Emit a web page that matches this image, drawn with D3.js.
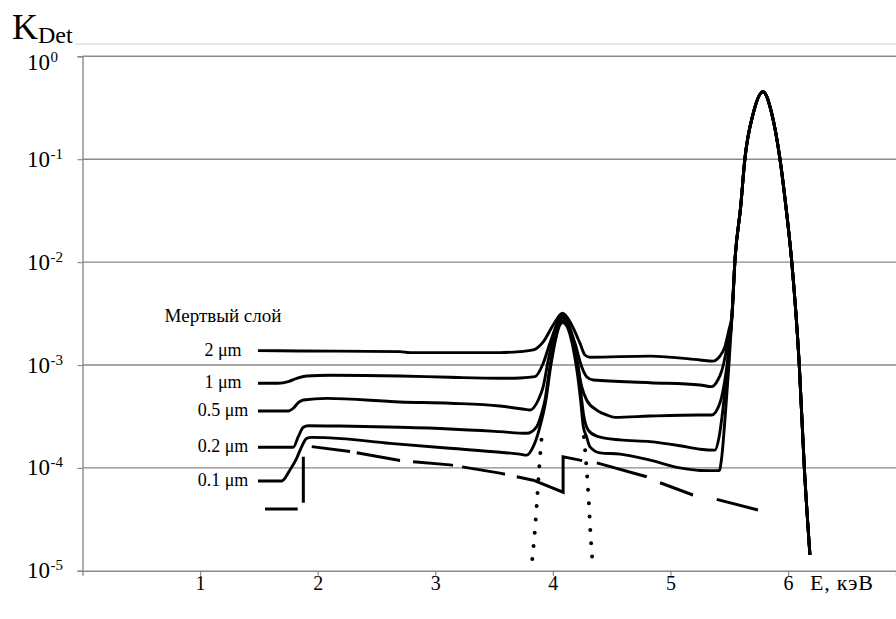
<!DOCTYPE html>
<html>
<head>
<meta charset="utf-8">
<script src="https://cdn.jsdelivr.net/npm/d3@7"></script>
<style>
  html, body { margin: 0; padding: 0; background: #fff; }
  svg { display: block; }
  svg text { font-family: "Liberation Serif", "Times New Roman", serif; }
</style>
</head>
<body>
<svg id="chart" width="896" height="619"></svg>
<script>
// Detector efficiency K_Det vs photon energy for several dead-layer thicknesses.
// Points are [E (keV), K].

const layerLabels = ["2 μm", "1 μm", "0.5 μm", "0.2 μm", "0.1 μm"];

// Shared main peak (all thicknesses coincide here)
const mainPeak = [
  [5.523, 3.0e-3], [5.548, 1.02e-2], [5.597, 3.45e-2], [5.633, 0.101],
  [5.704, 0.279], [5.787, 0.453], [5.861, 0.279], [5.931, 0.101],
  [5.982, 3.45e-2], [6.031, 1.02e-2], [6.095, 1.02e-3], [6.138, 1.02e-4],
  [6.186, 1.43e-5]
];

const layer2um = [
  [1.492, 1.38e-3], [1.849, 1.37e-3], [2.700, 1.35e-3], [2.784, 1.32e-3],
  [3.550, 1.32e-3], [3.720, 1.35e-3], [3.833, 1.40e-3], [3.918, 1.68e-3],
  [4.003, 2.45e-3], [4.083, 3.18e-3], [4.160, 2.45e-3], [4.230, 1.63e-3],
  [4.273, 1.25e-3], [4.316, 1.19e-3], [4.826, 1.22e-3], [5.251, 1.12e-3],
  [5.361, 1.09e-3], [5.420, 1.22e-3], [5.463, 1.51e-3], [5.497, 2.19e-3]
];

const layer1um = [
  [1.492, 6.64e-4], [1.662, 6.64e-4], [1.750, 6.88e-4], [1.821, 7.43e-4],
  [1.906, 7.82e-4], [2.105, 7.94e-4], [2.700, 7.82e-4], [3.125, 7.59e-4],
  [3.550, 7.43e-4], [3.720, 7.48e-4], [3.848, 7.70e-4], [3.918, 1.04e-3],
  [3.975, 1.63e-3], [4.083, 2.99e-3], [4.188, 1.63e-3], [4.245, 9.62e-4],
  [4.287, 7.70e-4], [4.344, 7.15e-4], [4.826, 6.73e-4], [5.251, 6.40e-4],
  [5.350, 6.16e-4], [5.403, 7.15e-4], [5.438, 8.93e-4], [5.468, 1.25e-3],
  [5.497, 1.96e-3]
];

const layer05um = [
  [1.492, 3.57e-4], [1.750, 3.57e-4], [1.793, 3.80e-4], [1.835, 4.30e-4],
  [1.878, 4.57e-4], [2.077, 4.74e-4], [2.700, 4.37e-4], [3.125, 4.25e-4],
  [3.550, 4.00e-4], [3.763, 3.71e-4], [3.805, 3.65e-4], [3.876, 4.57e-4],
  [3.918, 6.16e-4], [3.961, 1.12e-3], [4.083, 2.86e-3], [4.202, 1.12e-3],
  [4.245, 6.16e-4], [4.287, 4.57e-4], [4.372, 3.65e-4], [4.457, 3.27e-4],
  [4.528, 3.10e-4], [4.826, 3.19e-4], [5.251, 3.27e-4], [5.350, 3.27e-4],
  [5.420, 4.25e-4], [5.463, 7.15e-4], [5.497, 1.40e-3]
];

const layer02um = [
  [1.492, 1.59e-4], [1.793, 1.59e-4], [1.835, 2.01e-4], [1.878, 2.48e-4],
  [1.920, 2.57e-4], [2.190, 2.55e-4], [2.700, 2.48e-4], [3.125, 2.39e-4],
  [3.550, 2.25e-4], [3.777, 2.17e-4], [3.862, 2.51e-4], [3.905, 3.40e-4],
  [3.933, 4.57e-4], [3.975, 9.62e-4], [4.083, 2.70e-3], [4.216, 9.62e-4],
  [4.245, 4.57e-4], [4.259, 3.40e-4], [4.301, 2.33e-4], [4.372, 2.04e-4],
  [4.571, 1.87e-4], [4.826, 1.80e-4], [5.081, 1.64e-4], [5.251, 1.52e-4],
  [5.378, 1.49e-4], [5.414, 2.01e-4], [5.449, 3.96e-4], [5.489, 1.12e-3]
];

const layer01um = [
  [1.492, 7.46e-5], [1.694, 7.46e-5], [1.764, 9.55e-5], [1.821, 1.24e-4],
  [1.864, 1.61e-4], [1.906, 1.94e-4], [1.949, 1.98e-4], [2.105, 1.96e-4],
  [2.615, 1.73e-4], [3.125, 1.55e-4], [3.550, 1.42e-4], [3.720, 1.36e-4],
  [3.777, 1.33e-4], [3.833, 1.61e-4], [3.890, 2.51e-4], [3.941, 4.57e-4],
  [3.981, 9.62e-4], [4.083, 2.58e-3], [4.200, 9.62e-4], [4.236, 4.57e-4],
  [4.259, 2.51e-4], [4.287, 2.00e-4], [4.316, 1.60e-4], [4.401, 1.40e-4],
  [4.571, 1.36e-4], [4.826, 1.19e-4], [5.081, 1.00e-4], [5.251, 9.45e-5],
  [5.414, 9.40e-5], [5.438, 1.33e-4], [5.463, 2.92e-4], [5.497, 9.90e-4]
];

// Dashed curve with absorption edges
const edgeCurve = [
  [1.552, 3.99e-5], [1.878, 3.99e-5], [1.878, 1.65e-4], [2.275, 1.44e-4],
  [2.700, 1.18e-4], [3.125, 1.07e-4], [3.550, 8.90e-5], [3.833, 7.60e-5],
  [4.087, 5.80e-5], [4.087, 1.28e-4], [4.230, 1.19e-4], [4.372, 1.12e-4],
  [4.797, 8.20e-5], [4.911, 7.18e-5], [5.191, 5.45e-5], [5.393, 4.95e-5],
  [5.744, 3.90e-5]
];
// dash / gap lengths along the dashed curve
const edgeDashes = [32.7, 11.95, 46, 19.6, 38.6, 6.8, 44, 13.1, 40.1, 9.2,
  43.6, 12, 103.8, 14.85, 51.8, 14.6, 35.2, 24.1, 42.7, 60];

// Dotted escape peak flanks
const escapeLeft = [
  [3.825, 1.30e-5], [3.845, 2.3e-5], [3.865, 4.8e-5], [3.885, 1.05e-4], [3.905, 2.0e-4]
];
const escapeRight = [
  [4.264, 2.0e-4], [4.285, 1.05e-4], [4.305, 4.8e-5], [4.320, 2.3e-5], [4.335, 1.30e-5]
];

const xTicks = [1, 2, 3, 4, 5, 6];
const yTicks = [1e0, 1e-1, 1e-2, 1e-3, 1e-4, 1e-5];
const yExponents = ["0", "-1", "-2", "-3", "-4", "-5"];

const svg = d3.select("#chart");
const FONT = "Liberation Serif, Times New Roman, serif";

const x = d3.scaleLinear().domain([0, 6.918]).range([82.5, 896]);
const y = d3.scaleLog().domain([1e-5, 1]).range([570.8, 56.3]);

// faint plot-area border on top
svg.append("line")
  .attr("x1", 75).attr("x2", 896).attr("y1", 44).attr("y2", 44)
  .attr("stroke", "#cfcfcf").attr("stroke-width", 1);

// horizontal gridlines
svg.append("g").selectAll("line")
  .data(yTicks.slice(0, 5))
  .join("line")
  .attr("x1", x(0)).attr("x2", 896)
  .attr("y1", d => y(d)).attr("y2", d => y(d))
  .attr("stroke", "#8a8a8a").attr("stroke-width", 1.4);

// y axis
const yAxis = svg.append("g")
  .attr("transform", `translate(${x(0)},0)`)
  .call(d3.axisLeft(y).tickValues(yTicks).tickSize(5).tickFormat(""));
yAxis.select(".domain").attr("stroke", "#8a8a8a").attr("stroke-width", 1.4);
yAxis.selectAll(".tick line").attr("stroke", "#8a8a8a").attr("stroke-width", 1.2);

// x axis
const xAxis = svg.append("g")
  .attr("transform", `translate(0,${y(1e-5)})`)
  .call(d3.axisBottom(x).tickValues(xTicks).tickSize(5).tickPadding(0).tickFormat(d3.format("d")));
xAxis.attr("font-family", FONT);
xAxis.select(".domain").attr("stroke", "#8a8a8a").attr("stroke-width", 1.4);
xAxis.selectAll(".tick line").attr("stroke", "#8a8a8a").attr("stroke-width", 1.2);
xAxis.selectAll(".tick text")
  .attr("font-size", 20).attr("fill", "#000")
  .attr("dy", "0.71em");

// y tick labels: 10 with exponent (top label sits just under its gridline)
const yLab = svg.append("g").attr("font-family", FONT).attr("fill", "#000");
yTicks.forEach((t, i) => {
  const base = y(t) + (i === 0 ? 14 : 7.5);
  yLab.append("text")
    .attr("x", 50).attr("y", base)
    .attr("font-size", 23).attr("text-anchor", "end")
    .text("10");
  yLab.append("text")
    .attr("x", 50.5).attr("y", base - 8)
    .attr("font-size", 15)
    .text(yExponents[i]);
});

// axis titles
const kt = svg.append("text").attr("font-family", FONT)
  .attr("x", 12).attr("y", 39).attr("fill", "#000");
kt.append("tspan").attr("font-size", 36).text("K");
kt.append("tspan").attr("font-size", 24).attr("dy", 4).text("Det");

svg.append("text")
  .attr("font-family", FONT)
  .attr("x", 810).attr("y", y(1e-5) + 19.5)
  .attr("font-size", 22).attr("fill", "#000")
  .attr("letter-spacing", 0.8)
  .text("E, кэВ");

const line = d3.line()
  .x(d => x(d[0]))
  .y(d => y(d[1]))
  .curve(d3.curveMonotoneX);

const lineLinear = d3.line()
  .x(d => x(d[0]))
  .y(d => y(d[1]));

// dotted escape peak
[escapeLeft, escapeRight].forEach(s => {
  svg.append("path")
    .attr("d", line(s))
    .attr("fill", "none")
    .attr("stroke", "#000")
    .attr("stroke-width", 4)
    .attr("stroke-linecap", "round")
    .attr("stroke-dasharray", "0,13.3");
});

// dashed curve
svg.append("path")
  .attr("d", lineLinear(edgeCurve))
  .attr("fill", "none")
  .attr("stroke", "#000")
  .attr("stroke-width", 3)
  .attr("stroke-dasharray", edgeDashes.join(","));

// solid curves for each dead-layer thickness
const layers = [layer2um, layer1um, layer05um, layer02um, layer01um];
layers.forEach(s => {
  svg.append("path")
    .attr("d", line(s.concat(mainPeak)))
    .attr("fill", "none")
    .attr("stroke", "#000")
    .attr("stroke-width", 2.9)
    .attr("stroke-linejoin", "round");
});

// legend labels
const legend = svg.append("g")
  .attr("font-family", FONT)
  .attr("fill", "#000").attr("text-anchor", "middle");
legend.append("text").attr("x", 223).attr("y", 321.5)
  .attr("font-size", 19).text("Мертвый слой");
layers.forEach((s, i) => {
  legend.append("text")
    .attr("x", 223)
    .attr("y", y(s[0][1]) + 5)
    .attr("font-size", 18)
    .text(layerLabels[i]);
});
</script>
</body>
</html>
